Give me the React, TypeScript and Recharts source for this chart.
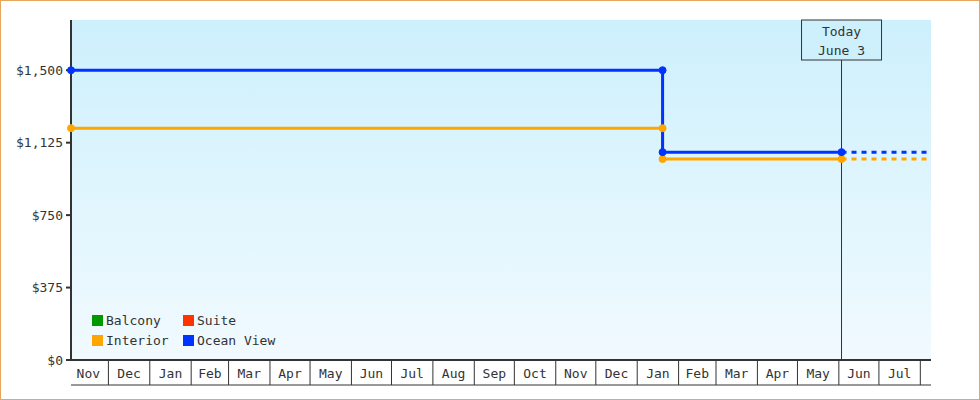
import { LineChart, Line, XAxis, YAxis, CartesianGrid, ReferenceLine, Legend } from 'recharts';

const day = (y: number, m: number, d: number) => Date.UTC(y, m - 1, d);

// visible time window
const rangeStart = day(2021, 11, 3);
const rangeEnd = day(2023, 8, 9);
const today = day(2023, 6, 3);
const priceDrop = day(2023, 1, 20);
const forecastEnd = day(2023, 8, 6);

// calendar months shown on the axis (Nov 2021 .. Aug 2023)
const monthStarts: number[] = [];
for (let i = 0; i < 22; i++) monthStarts.push(Date.UTC(2021, 10 + i, 1));
const monthLabels = ['Nov', 'Dec', 'Jan', 'Feb', 'Mar', 'Apr', 'May', 'Jun', 'Jul', 'Aug', 'Sep', 'Oct',
  'Nov', 'Dec', 'Jan', 'Feb', 'Mar', 'Apr', 'May', 'Jun', 'Jul'];

const priceTicks = [0, 375, 750, 1125, 1500];

const interiorPast = [
  { t: rangeStart, price: 1200 },
  { t: priceDrop, price: 1200 },
  { t: priceDrop, price: 1040 },
  { t: today, price: 1040 },
];
const interiorAhead = [
  { t: today, price: 1040 },
  { t: forecastEnd, price: 1040 },
];
const oceanPast = [
  { t: rangeStart, price: 1500 },
  { t: priceDrop, price: 1500 },
  { t: priceDrop, price: 1076 },
  { t: today, price: 1076 },
];
const oceanAhead = [
  { t: today, price: 1076 },
  { t: forecastEnd, price: 1076 },
];

const legendItems = [
  { name: 'Balcony', color: '#009900' },
  { name: 'Suite', color: '#ff3300' },
  { name: 'Interior', color: '#ffa500' },
  { name: 'Ocean View', color: '#0033ff' },
];

const INK = '#333';
const ORANGE = '#ffa500';
const BLUE = '#0033ff';

// boundaries get a cell line, mid-month values get the label
const boundaries = monthStarts.slice(1);
const midpoints = monthLabels.map((_, i) => (monthStarts[i] + monthStarts[i + 1]) / 2);
const axisTicks = [...boundaries, ...midpoints].sort((a, b) => a - b);

const MonthTick = (props: any) => {
  const { x, y, payload } = props;
  const v = payload.value;
  if (boundaries.indexOf(v) >= 0) {
    return <line x1={x} x2={x} y1={y} y2={y + 25} stroke={INK} strokeWidth={1} />;
  }
  const mi = midpoints.indexOf(v);
  if (mi < 0) return null;
  return (
    <text x={x} y={y + 18} textAnchor="middle" fontSize={13} fill={INK}>
      {monthLabels[mi]}
    </text>
  );
};

const TodayLabel = (props: any) => {
  const { x, y } = props.viewBox;
  return (
    <g>
      <rect x={x - 40} y={y} width={80} height={40} fill="#cdf0fc" stroke={INK} strokeWidth={1} />
      <text x={x} y={y + 16} textAnchor="middle" fontSize={13} fill={INK}>Today</text>
      <text x={x} y={y + 34.5} textAnchor="middle" fontSize={13} fill={INK}>June 3</text>
    </g>
  );
};

const LegendBox = () => (
  <div style={{ display: 'grid', gridTemplateColumns: '91px 110px', rowGap: 7, fontSize: 13, color: INK }}>
    {legendItems.map(it => (
      <div key={it.name} style={{ display: 'flex', alignItems: 'center', height: 13 }}>
        <span style={{ width: 11, height: 11, background: it.color, marginRight: 3, display: 'inline-block' }} />
        <span>{it.name}</span>
      </div>
    ))}
  </div>
);

export default function App() {
  return (
    <div style={{ position: 'absolute', left: 0, top: 0, width: 980, height: 400, outline: '1px solid #e6a65d', outlineOffset: -1, background: '#fff', fontFamily: '"DejaVu Sans Mono", monospace' }}>
      <LineChart width={980} height={400} margin={{ top: 20, right: 49, bottom: 14, left: 0 }}>
        <defs>
          <linearGradient id="plotBg" x1="0" y1="0" x2="0" y2="1">
            <stop offset="0%" stopColor="#cdf0fc" />
            <stop offset="100%" stopColor="#f1faff" />
          </linearGradient>
        </defs>
        <CartesianGrid fill="url(#plotBg)" horizontal={false} vertical={false} />
        <XAxis
          dataKey="t"
          type="number"
          domain={[rangeStart, rangeEnd]}
          ticks={axisTicks}
          interval={0}
          tickSize={0}
          tickMargin={0}
          tickLine={false}
          tick={<MonthTick />}
          height={25}
          axisLine={{ stroke: INK, strokeWidth: 2 }}
        />
        <XAxis
          xAxisId="frame"
          type="number"
          domain={[rangeStart, rangeEnd]}
          tick={false}
          tickLine={false}
          height={1}
          axisLine={{ stroke: INK, strokeWidth: 1 }}
        />
        <YAxis
          type="number"
          domain={[0, 1760]}
          ticks={priceTicks}
          width={71}
          tickSize={5}
          tickMargin={3}
          tickLine={{ stroke: INK, strokeWidth: 2 }}
          axisLine={{ stroke: INK, strokeWidth: 2 }}
          tick={{ fill: INK, fontSize: 13 }}
          tickFormatter={(v: number) => `$${v.toLocaleString('en-US')}`}
        />
        <ReferenceLine x={today} stroke={INK} strokeWidth={1} label={<TodayLabel />} />
        <Line data={interiorPast} dataKey="price" type="linear" stroke={ORANGE} strokeWidth={3}
          dot={{ r: 3.5, fill: ORANGE, stroke: ORANGE, strokeWidth: 1 }} isAnimationActive={false} />
        <Line data={interiorAhead} dataKey="price" type="linear" stroke={ORANGE} strokeWidth={3}
          strokeDasharray="5 5" dot={false} isAnimationActive={false} />
        <Line data={oceanPast} dataKey="price" type="linear" stroke={BLUE} strokeWidth={3}
          dot={{ r: 3.5, fill: BLUE, stroke: BLUE, strokeWidth: 1 }} isAnimationActive={false} />
        <Line data={oceanAhead} dataKey="price" type="linear" stroke={BLUE} strokeWidth={3}
          strokeDasharray="5 5" dot={false} isAnimationActive={false} />
        <Legend
          layout="vertical"
          align="center"
          verticalAlign="middle"
          content={<LegendBox />}
          wrapperStyle={{ left: 92, top: 314, width: 'auto' }}
        />
      </LineChart>
    </div>
  );
}
